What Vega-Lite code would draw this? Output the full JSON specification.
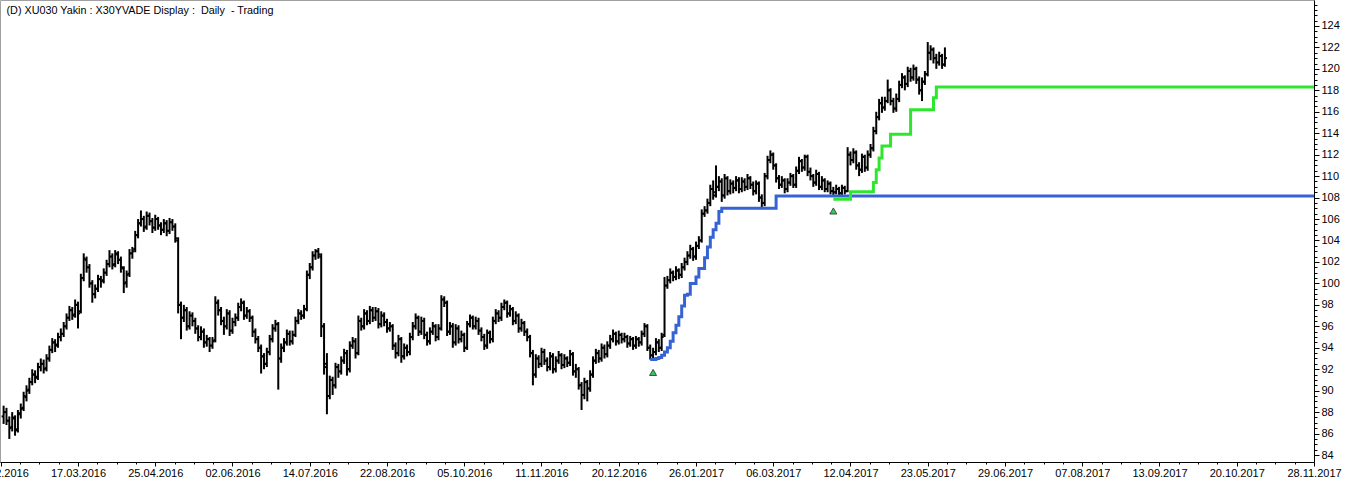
{
"$schema": "https://vega.github.io/schema/vega-lite/v6.json",
"width": 1314,
"height": 462,
"autosize": "none",
"padding": {"left": 0, "top": 0, "right": 32, "bottom": 20},
"background": "white",
"config": {
  "view": {"stroke": "#a0a0a0"},
  "axis": {"grid": false, "domainColor": "#000000", "tickColor": "#000000", "labelColor": "#000000", "labelFont": "Liberation Sans", "labelFontSize": 11, "labelOverlap": false, "labelFlush": false}
},
"resolve": {"axis": {"x": "independent", "y": "independent"}},
"datasets": {
"bars": [
{"i":1,"o":87.6,"h":88.6,"l":86.9,"c":88.0},
{"i":2,"o":88.0,"h":88.4,"l":86.8,"c":87.2},
{"i":3,"o":87.2,"h":87.6,"l":85.5,"c":86.5},
{"i":4,"o":86.6,"h":88.0,"l":86.2,"c":87.5},
{"i":5,"o":87.4,"h":87.7,"l":85.8,"c":86.3},
{"i":6,"o":86.4,"h":88.2,"l":86.1,"c":87.8},
{"i":7,"o":87.9,"h":88.8,"l":87.4,"c":88.3},
{"i":8,"o":88.4,"h":89.9,"l":88.1,"c":89.5},
{"i":9,"o":89.4,"h":90.5,"l":89.0,"c":90.0},
{"i":10,"o":90.1,"h":91.2,"l":89.7,"c":90.8},
{"i":11,"o":90.8,"h":92.0,"l":90.5,"c":91.5},
{"i":12,"o":91.5,"h":91.9,"l":90.7,"c":91.2},
{"i":13,"o":91.3,"h":92.6,"l":91.0,"c":92.2},
{"i":14,"o":92.2,"h":93.0,"l":91.8,"c":92.5},
{"i":15,"o":92.5,"h":92.9,"l":91.6,"c":92.0},
{"i":16,"o":92.1,"h":93.4,"l":91.8,"c":93.0},
{"i":17,"o":93.0,"h":94.2,"l":92.7,"c":93.8},
{"i":18,"o":93.8,"h":94.9,"l":93.5,"c":94.5},
{"i":19,"o":94.5,"h":94.8,"l":93.6,"c":94.2},
{"i":20,"o":94.3,"h":95.4,"l":94.0,"c":95.0},
{"i":21,"o":95.0,"h":95.8,"l":94.6,"c":95.3},
{"i":22,"o":95.3,"h":96.4,"l":95.0,"c":96.0},
{"i":23,"o":96.0,"h":97.2,"l":95.7,"c":96.8},
{"i":24,"o":96.8,"h":97.9,"l":96.5,"c":97.5},
{"i":25,"o":97.5,"h":97.8,"l":96.6,"c":97.0},
{"i":26,"o":97.1,"h":98.5,"l":96.8,"c":98.0},
{"i":27,"o":98.0,"h":98.3,"l":95.8,"c":97.2},
{"i":28,"o":97.4,"h":100.9,"l":97.2,"c":100.5},
{"i":29,"o":100.5,"h":102.8,"l":100.2,"c":102.3},
{"i":30,"o":102.2,"h":102.5,"l":101.0,"c":101.5},
{"i":31,"o":101.5,"h":101.8,"l":99.6,"c":100.0},
{"i":32,"o":100.0,"h":100.3,"l":98.2,"c":99.0},
{"i":33,"o":99.0,"h":99.9,"l":98.6,"c":99.5},
{"i":34,"o":99.5,"h":100.8,"l":99.2,"c":100.4},
{"i":35,"o":100.4,"h":100.7,"l":99.6,"c":100.2},
{"i":36,"o":100.3,"h":101.4,"l":100.0,"c":101.0},
{"i":37,"o":101.0,"h":102.2,"l":100.7,"c":101.8},
{"i":38,"o":101.8,"h":103.1,"l":101.5,"c":102.5},
{"i":39,"o":102.5,"h":102.8,"l":101.3,"c":101.7},
{"i":40,"o":101.8,"h":103.1,"l":101.5,"c":102.8},
{"i":41,"o":102.7,"h":103.0,"l":101.8,"c":102.2},
{"i":42,"o":102.2,"h":102.5,"l":101.0,"c":101.5},
{"i":43,"o":101.4,"h":101.6,"l":99.1,"c":100.0},
{"i":44,"o":100.1,"h":101.2,"l":99.6,"c":100.8},
{"i":45,"o":100.9,"h":103.2,"l":100.6,"c":102.8},
{"i":46,"o":102.8,"h":103.4,"l":102.3,"c":103.0},
{"i":47,"o":103.2,"h":104.9,"l":102.9,"c":104.5},
{"i":48,"o":104.5,"h":106.0,"l":104.2,"c":105.6},
{"i":49,"o":105.6,"h":106.8,"l":105.3,"c":106.0},
{"i":50,"o":106.0,"h":106.3,"l":104.8,"c":105.2},
{"i":51,"o":105.3,"h":106.7,"l":105.0,"c":106.3},
{"i":52,"o":106.3,"h":106.6,"l":105.4,"c":105.8},
{"i":53,"o":105.8,"h":106.1,"l":104.7,"c":105.2},
{"i":54,"o":105.2,"h":106.4,"l":104.9,"c":106.0},
{"i":55,"o":106.0,"h":106.2,"l":105.0,"c":105.4},
{"i":56,"o":105.4,"h":105.7,"l":104.5,"c":105.0},
{"i":57,"o":105.0,"h":106.0,"l":104.7,"c":105.6},
{"i":58,"o":105.6,"h":105.9,"l":104.4,"c":104.9},
{"i":59,"o":104.9,"h":106.1,"l":104.6,"c":105.7},
{"i":60,"o":105.7,"h":106.0,"l":104.9,"c":105.3},
{"i":61,"o":105.3,"h":105.6,"l":103.8,"c":104.2},
{"i":62,"o":104.0,"h":104.3,"l":97.2,"c":98.0},
{"i":63,"o":98.0,"h":98.3,"l":94.8,"c":96.8},
{"i":64,"o":96.8,"h":98.0,"l":96.4,"c":97.5},
{"i":65,"o":97.5,"h":97.8,"l":95.6,"c":96.0},
{"i":66,"o":96.0,"h":97.4,"l":95.7,"c":97.0},
{"i":67,"o":97.0,"h":97.3,"l":96.0,"c":96.5},
{"i":68,"o":96.5,"h":96.8,"l":95.3,"c":95.8},
{"i":69,"o":95.8,"h":96.1,"l":94.6,"c":95.0},
{"i":70,"o":95.0,"h":96.0,"l":94.7,"c":95.5},
{"i":71,"o":95.5,"h":95.8,"l":94.0,"c":94.5},
{"i":72,"o":94.5,"h":95.2,"l":94.1,"c":94.8},
{"i":73,"o":94.8,"h":95.0,"l":93.6,"c":94.2},
{"i":74,"o":94.2,"h":95.0,"l":93.9,"c":94.6},
{"i":75,"o":94.7,"h":98.8,"l":94.5,"c":98.2},
{"i":76,"o":98.2,"h":98.5,"l":97.0,"c":97.5},
{"i":77,"o":97.5,"h":97.8,"l":96.1,"c":96.5},
{"i":78,"o":96.5,"h":96.9,"l":95.2,"c":96.0},
{"i":79,"o":96.0,"h":97.6,"l":95.7,"c":97.2},
{"i":80,"o":97.2,"h":97.5,"l":95.1,"c":95.6},
{"i":81,"o":95.6,"h":96.8,"l":95.3,"c":96.4},
{"i":82,"o":96.4,"h":97.2,"l":96.0,"c":96.8},
{"i":83,"o":96.8,"h":98.2,"l":96.5,"c":97.8},
{"i":84,"o":97.8,"h":98.6,"l":97.4,"c":98.2},
{"i":85,"o":98.2,"h":98.4,"l":96.6,"c":97.0},
{"i":86,"o":97.0,"h":97.8,"l":96.7,"c":97.4},
{"i":87,"o":97.4,"h":97.6,"l":96.4,"c":96.8},
{"i":88,"o":96.8,"h":97.0,"l":95.0,"c":95.5},
{"i":89,"o":95.5,"h":95.8,"l":94.4,"c":94.8},
{"i":90,"o":94.8,"h":95.1,"l":93.6,"c":94.0},
{"i":91,"o":94.0,"h":94.3,"l":91.6,"c":93.2},
{"i":92,"o":93.2,"h":93.5,"l":92.0,"c":92.5},
{"i":93,"o":92.5,"h":94.0,"l":92.2,"c":93.6},
{"i":94,"o":93.6,"h":95.2,"l":93.3,"c":94.8},
{"i":95,"o":94.8,"h":96.2,"l":94.5,"c":95.8},
{"i":96,"o":95.8,"h":96.6,"l":95.5,"c":96.2},
{"i":97,"o":96.2,"h":96.4,"l":90.1,"c":93.0},
{"i":98,"o":93.0,"h":94.4,"l":92.6,"c":94.0},
{"i":99,"o":94.0,"h":94.9,"l":93.6,"c":94.5},
{"i":100,"o":94.5,"h":95.7,"l":94.2,"c":95.3},
{"i":101,"o":95.3,"h":95.6,"l":94.2,"c":94.6},
{"i":102,"o":94.6,"h":95.6,"l":94.3,"c":95.2},
{"i":103,"o":95.2,"h":96.9,"l":95.0,"c":96.5},
{"i":104,"o":96.5,"h":97.6,"l":96.2,"c":97.2},
{"i":105,"o":97.2,"h":97.5,"l":96.6,"c":97.0},
{"i":106,"o":97.0,"h":98.0,"l":96.7,"c":97.6},
{"i":107,"o":97.6,"h":101.2,"l":97.4,"c":100.8},
{"i":108,"o":100.8,"h":101.9,"l":100.4,"c":101.5},
{"i":109,"o":101.5,"h":103.0,"l":101.2,"c":102.6},
{"i":110,"o":102.6,"h":103.2,"l":102.2,"c":103.0},
{"i":111,"o":103.0,"h":103.3,"l":102.3,"c":102.7},
{"i":112,"o":102.5,"h":102.8,"l":95.0,"c":96.0},
{"i":113,"o":96.0,"h":96.3,"l":91.5,"c":92.5},
{"i":114,"o":92.2,"h":93.5,"l":87.8,"c":89.5},
{"i":115,"o":89.5,"h":91.4,"l":89.2,"c":91.0},
{"i":116,"o":91.0,"h":91.3,"l":89.6,"c":90.5},
{"i":117,"o":90.5,"h":92.6,"l":90.2,"c":92.2},
{"i":118,"o":92.2,"h":92.5,"l":91.2,"c":91.8},
{"i":119,"o":91.8,"h":93.2,"l":91.5,"c":92.8},
{"i":120,"o":92.8,"h":93.9,"l":92.5,"c":93.5},
{"i":121,"o":93.5,"h":93.8,"l":91.4,"c":92.0},
{"i":122,"o":92.0,"h":94.6,"l":91.7,"c":94.2},
{"i":123,"o":94.2,"h":95.0,"l":93.9,"c":94.6},
{"i":124,"o":94.6,"h":94.9,"l":93.0,"c":93.5},
{"i":125,"o":93.5,"h":97.0,"l":93.3,"c":96.5},
{"i":126,"o":96.5,"h":96.8,"l":95.6,"c":96.0},
{"i":127,"o":96.0,"h":97.6,"l":95.7,"c":97.2},
{"i":128,"o":97.2,"h":97.5,"l":96.1,"c":96.5},
{"i":129,"o":96.5,"h":97.9,"l":96.2,"c":97.5},
{"i":130,"o":97.5,"h":97.8,"l":96.4,"c":96.8},
{"i":131,"o":96.8,"h":97.8,"l":96.5,"c":97.4},
{"i":132,"o":97.4,"h":97.7,"l":95.8,"c":96.2},
{"i":133,"o":96.2,"h":97.4,"l":95.9,"c":97.0},
{"i":134,"o":97.0,"h":97.3,"l":96.0,"c":96.4},
{"i":135,"o":96.4,"h":96.7,"l":95.4,"c":95.8},
{"i":136,"o":95.8,"h":96.4,"l":95.5,"c":96.0},
{"i":137,"o":96.0,"h":96.2,"l":93.8,"c":94.2},
{"i":138,"o":94.2,"h":94.5,"l":93.0,"c":93.5},
{"i":139,"o":93.5,"h":95.2,"l":93.2,"c":94.8},
{"i":140,"o":94.8,"h":95.0,"l":92.6,"c":93.2},
{"i":141,"o":93.2,"h":94.4,"l":92.9,"c":94.0},
{"i":142,"o":94.0,"h":94.3,"l":93.2,"c":93.6},
{"i":143,"o":93.6,"h":95.4,"l":93.3,"c":95.0},
{"i":144,"o":95.0,"h":96.4,"l":94.7,"c":96.0},
{"i":145,"o":96.0,"h":97.2,"l":95.7,"c":96.8},
{"i":146,"o":96.8,"h":97.0,"l":95.1,"c":95.5},
{"i":147,"o":95.5,"h":96.9,"l":95.2,"c":96.5},
{"i":148,"o":96.5,"h":96.8,"l":94.8,"c":95.2},
{"i":149,"o":95.2,"h":95.5,"l":94.2,"c":94.6},
{"i":150,"o":94.6,"h":95.9,"l":94.3,"c":95.5},
{"i":151,"o":95.5,"h":96.4,"l":95.2,"c":96.0},
{"i":152,"o":96.0,"h":96.2,"l":94.6,"c":95.0},
{"i":153,"o":95.0,"h":96.2,"l":94.7,"c":95.8},
{"i":154,"o":95.8,"h":98.9,"l":95.6,"c":98.5},
{"i":155,"o":98.5,"h":98.8,"l":97.8,"c":98.2},
{"i":156,"o":98.2,"h":98.4,"l":95.1,"c":95.5},
{"i":157,"o":95.5,"h":96.4,"l":95.2,"c":96.0},
{"i":158,"o":96.0,"h":96.3,"l":94.0,"c":94.5},
{"i":159,"o":94.5,"h":96.2,"l":94.2,"c":95.8},
{"i":160,"o":95.8,"h":96.1,"l":94.4,"c":94.8},
{"i":161,"o":94.8,"h":95.6,"l":94.5,"c":95.2},
{"i":162,"o":95.2,"h":95.4,"l":93.6,"c":94.0},
{"i":163,"o":94.0,"h":96.5,"l":93.8,"c":96.2},
{"i":164,"o":96.2,"h":97.1,"l":95.9,"c":96.8},
{"i":165,"o":96.8,"h":97.0,"l":95.7,"c":96.0},
{"i":166,"o":96.0,"h":96.9,"l":95.7,"c":96.5},
{"i":167,"o":96.5,"h":96.8,"l":95.2,"c":95.6},
{"i":168,"o":95.6,"h":95.9,"l":94.6,"c":95.0},
{"i":169,"o":95.0,"h":95.3,"l":93.8,"c":94.2},
{"i":170,"o":94.2,"h":95.7,"l":93.9,"c":95.4},
{"i":171,"o":95.4,"h":95.6,"l":94.4,"c":94.8},
{"i":172,"o":94.8,"h":96.9,"l":94.5,"c":96.5},
{"i":173,"o":96.5,"h":97.6,"l":96.2,"c":97.2},
{"i":174,"o":97.2,"h":97.5,"l":96.4,"c":96.8},
{"i":175,"o":96.8,"h":98.2,"l":96.5,"c":97.8},
{"i":176,"o":97.8,"h":98.5,"l":97.5,"c":98.2},
{"i":177,"o":98.2,"h":98.4,"l":96.8,"c":97.2},
{"i":178,"o":97.2,"h":98.0,"l":96.9,"c":97.6},
{"i":179,"o":97.6,"h":97.8,"l":96.1,"c":96.5},
{"i":180,"o":96.5,"h":97.4,"l":96.2,"c":97.0},
{"i":181,"o":97.0,"h":97.2,"l":95.4,"c":95.8},
{"i":182,"o":95.8,"h":96.7,"l":95.5,"c":96.3},
{"i":183,"o":96.3,"h":96.5,"l":95.1,"c":95.5},
{"i":184,"o":95.5,"h":95.8,"l":94.6,"c":95.0},
{"i":185,"o":95.0,"h":95.2,"l":93.1,"c":93.5},
{"i":186,"o":93.5,"h":93.8,"l":90.5,"c":91.5},
{"i":187,"o":91.5,"h":93.4,"l":91.2,"c":93.0},
{"i":188,"o":93.0,"h":93.3,"l":92.1,"c":92.5},
{"i":189,"o":92.5,"h":94.0,"l":92.2,"c":93.6},
{"i":190,"o":93.6,"h":93.9,"l":92.4,"c":92.8},
{"i":191,"o":92.8,"h":93.1,"l":91.8,"c":92.2},
{"i":192,"o":92.2,"h":93.6,"l":91.9,"c":93.2},
{"i":193,"o":93.2,"h":93.5,"l":91.6,"c":92.0},
{"i":194,"o":92.0,"h":93.2,"l":91.7,"c":92.8},
{"i":195,"o":92.8,"h":93.7,"l":92.5,"c":93.3},
{"i":196,"o":93.3,"h":93.5,"l":92.0,"c":92.4},
{"i":197,"o":92.4,"h":93.4,"l":92.1,"c":93.0},
{"i":198,"o":93.0,"h":93.2,"l":92.2,"c":92.6},
{"i":199,"o":92.6,"h":93.8,"l":92.3,"c":93.4},
{"i":200,"o":93.4,"h":93.6,"l":91.4,"c":91.8},
{"i":201,"o":91.8,"h":92.5,"l":91.2,"c":92.0},
{"i":202,"o":92.0,"h":92.2,"l":90.1,"c":90.5},
{"i":203,"o":90.5,"h":90.8,"l":88.2,"c":89.6},
{"i":204,"o":89.6,"h":91.2,"l":89.2,"c":90.8},
{"i":205,"o":90.8,"h":91.0,"l":89.0,"c":90.2},
{"i":206,"o":90.2,"h":91.9,"l":89.9,"c":91.5},
{"i":207,"o":91.5,"h":93.2,"l":91.2,"c":92.8},
{"i":208,"o":92.8,"h":93.9,"l":92.5,"c":93.5},
{"i":209,"o":93.5,"h":93.8,"l":92.6,"c":93.0},
{"i":210,"o":93.0,"h":94.4,"l":92.7,"c":94.0},
{"i":211,"o":94.0,"h":94.3,"l":93.0,"c":93.4},
{"i":212,"o":93.4,"h":94.6,"l":93.1,"c":94.2},
{"i":213,"o":94.2,"h":95.2,"l":93.9,"c":94.8},
{"i":214,"o":94.8,"h":95.7,"l":94.5,"c":95.3},
{"i":215,"o":95.3,"h":95.5,"l":94.2,"c":94.6},
{"i":216,"o":94.6,"h":95.6,"l":94.3,"c":95.2},
{"i":217,"o":95.2,"h":95.4,"l":94.4,"c":94.8},
{"i":218,"o":94.8,"h":95.4,"l":94.5,"c":95.0},
{"i":219,"o":95.0,"h":95.2,"l":94.0,"c":94.4},
{"i":220,"o":94.4,"h":95.1,"l":94.1,"c":94.8},
{"i":221,"o":94.8,"h":95.0,"l":93.8,"c":94.2},
{"i":222,"o":94.2,"h":95.1,"l":93.9,"c":94.8},
{"i":223,"o":94.8,"h":95.0,"l":94.1,"c":94.5},
{"i":224,"o":94.5,"h":95.6,"l":94.2,"c":95.3},
{"i":225,"o":95.3,"h":96.3,"l":95.0,"c":96.0},
{"i":226,"o":96.0,"h":96.2,"l":93.7,"c":94.0},
{"i":227,"o":94.0,"h":94.3,"l":92.9,"c":93.3},
{"i":228,"o":93.3,"h":94.0,"l":93.0,"c":93.6},
{"i":229,"o":93.6,"h":94.9,"l":93.3,"c":94.5},
{"i":230,"o":94.5,"h":94.8,"l":93.6,"c":94.0},
{"i":231,"o":94.0,"h":95.4,"l":93.7,"c":95.0},
{"i":232,"o":95.2,"h":100.6,"l":95.0,"c":99.8},
{"i":233,"o":99.8,"h":100.7,"l":99.5,"c":100.3},
{"i":234,"o":100.3,"h":101.4,"l":100.0,"c":101.0},
{"i":235,"o":101.0,"h":101.2,"l":100.2,"c":100.6},
{"i":236,"o":100.6,"h":101.6,"l":100.3,"c":101.2},
{"i":237,"o":101.2,"h":101.4,"l":100.4,"c":100.8},
{"i":238,"o":100.8,"h":101.9,"l":100.5,"c":101.5},
{"i":239,"o":101.5,"h":102.4,"l":101.2,"c":102.0},
{"i":240,"o":102.0,"h":103.0,"l":101.7,"c":102.6},
{"i":241,"o":102.6,"h":103.6,"l":102.3,"c":103.2},
{"i":242,"o":103.2,"h":103.4,"l":102.1,"c":102.5},
{"i":243,"o":102.5,"h":103.9,"l":102.2,"c":103.5},
{"i":244,"o":103.5,"h":104.4,"l":103.2,"c":104.0},
{"i":245,"o":104.0,"h":106.9,"l":103.8,"c":106.5},
{"i":246,"o":106.5,"h":107.2,"l":106.2,"c":106.8},
{"i":247,"o":106.8,"h":107.9,"l":106.5,"c":107.5},
{"i":248,"o":107.5,"h":109.2,"l":107.2,"c":108.8},
{"i":249,"o":108.8,"h":109.6,"l":107.8,"c":108.2},
{"i":250,"o":108.5,"h":111.0,"l":108.0,"c":109.0},
{"i":251,"o":109.0,"h":110.0,"l":108.6,"c":109.5},
{"i":252,"o":109.5,"h":109.8,"l":107.6,"c":108.2},
{"i":253,"o":108.2,"h":110.2,"l":107.9,"c":109.8},
{"i":254,"o":109.8,"h":110.0,"l":108.2,"c":108.6},
{"i":255,"o":108.6,"h":109.7,"l":108.3,"c":109.3},
{"i":256,"o":109.3,"h":109.6,"l":108.4,"c":108.9},
{"i":257,"o":108.9,"h":110.0,"l":108.6,"c":109.6},
{"i":258,"o":109.6,"h":109.9,"l":108.4,"c":108.8},
{"i":259,"o":108.8,"h":109.9,"l":108.5,"c":109.5},
{"i":260,"o":109.5,"h":109.8,"l":108.6,"c":109.0},
{"i":261,"o":109.0,"h":110.2,"l":108.7,"c":109.8},
{"i":262,"o":109.8,"h":110.0,"l":108.8,"c":109.2},
{"i":263,"o":109.2,"h":109.5,"l":108.2,"c":108.6},
{"i":264,"o":108.6,"h":109.6,"l":108.3,"c":109.3},
{"i":265,"o":109.3,"h":109.5,"l":107.6,"c":108.0},
{"i":266,"o":108.0,"h":108.3,"l":107.1,"c":107.5},
{"i":267,"o":107.5,"h":110.3,"l":107.2,"c":110.0},
{"i":268,"o":110.0,"h":111.9,"l":109.7,"c":111.5},
{"i":269,"o":111.5,"h":112.4,"l":111.2,"c":112.0},
{"i":270,"o":112.0,"h":112.2,"l":110.6,"c":111.0},
{"i":271,"o":111.0,"h":111.2,"l":109.4,"c":109.8},
{"i":272,"o":109.8,"h":110.1,"l":108.8,"c":109.2},
{"i":273,"o":109.2,"h":110.0,"l":108.9,"c":109.6},
{"i":274,"o":109.6,"h":109.8,"l":108.4,"c":108.8},
{"i":275,"o":108.8,"h":109.8,"l":108.5,"c":109.4},
{"i":276,"o":109.4,"h":110.3,"l":109.1,"c":110.0},
{"i":277,"o":110.0,"h":110.2,"l":108.9,"c":109.2},
{"i":278,"o":109.2,"h":110.9,"l":108.9,"c":110.5},
{"i":279,"o":110.5,"h":111.8,"l":110.2,"c":111.4},
{"i":280,"o":111.4,"h":111.6,"l":110.4,"c":110.8},
{"i":281,"o":110.8,"h":112.0,"l":110.5,"c":111.8},
{"i":282,"o":111.8,"h":112.0,"l":110.0,"c":110.4},
{"i":283,"o":110.4,"h":110.8,"l":109.6,"c":110.0},
{"i":284,"o":110.0,"h":110.2,"l":109.0,"c":109.4},
{"i":285,"o":109.4,"h":110.6,"l":109.1,"c":110.2},
{"i":286,"o":110.2,"h":110.4,"l":108.7,"c":109.0},
{"i":287,"o":109.0,"h":110.0,"l":108.7,"c":109.6},
{"i":288,"o":109.6,"h":109.8,"l":108.5,"c":108.8},
{"i":289,"o":108.8,"h":109.6,"l":108.5,"c":109.3},
{"i":290,"o":109.3,"h":109.5,"l":108.3,"c":108.6},
{"i":291,"o":108.6,"h":109.0,"l":108.2,"c":108.5},
{"i":292,"o":108.5,"h":109.2,"l":108.3,"c":108.8},
{"i":293,"o":108.8,"h":109.0,"l":108.1,"c":108.4},
{"i":294,"o":108.4,"h":109.2,"l":108.2,"c":108.9},
{"i":295,"o":108.9,"h":109.1,"l":108.3,"c":108.6},
{"i":296,"o":108.6,"h":112.7,"l":108.5,"c":112.0},
{"i":297,"o":112.0,"h":112.3,"l":111.0,"c":111.5},
{"i":298,"o":111.5,"h":112.6,"l":111.2,"c":112.2},
{"i":299,"o":112.2,"h":112.4,"l":110.6,"c":111.0},
{"i":300,"o":111.0,"h":111.3,"l":110.0,"c":110.6},
{"i":301,"o":110.6,"h":112.1,"l":110.3,"c":111.8},
{"i":302,"o":111.8,"h":112.0,"l":110.4,"c":110.8},
{"i":303,"o":110.8,"h":112.4,"l":110.5,"c":112.0},
{"i":304,"o":112.0,"h":113.0,"l":111.7,"c":112.6},
{"i":305,"o":112.6,"h":114.6,"l":112.3,"c":114.2},
{"i":306,"o":114.2,"h":116.0,"l":113.9,"c":115.5},
{"i":307,"o":115.5,"h":117.2,"l":115.2,"c":116.8},
{"i":308,"o":116.8,"h":117.4,"l":115.9,"c":116.4},
{"i":309,"o":116.4,"h":117.4,"l":116.1,"c":117.0},
{"i":310,"o":117.0,"h":119.0,"l":116.8,"c":118.0},
{"i":311,"o":118.0,"h":118.2,"l":116.6,"c":117.0},
{"i":312,"o":117.0,"h":117.3,"l":115.9,"c":116.3},
{"i":313,"o":116.3,"h":117.7,"l":116.0,"c":117.2},
{"i":314,"o":117.2,"h":118.9,"l":116.9,"c":118.5},
{"i":315,"o":118.5,"h":119.6,"l":118.2,"c":119.2},
{"i":316,"o":119.2,"h":119.4,"l":118.0,"c":118.6},
{"i":317,"o":118.6,"h":120.2,"l":118.3,"c":119.8},
{"i":318,"o":119.8,"h":120.1,"l":118.8,"c":119.2},
{"i":319,"o":119.2,"h":120.4,"l":118.9,"c":120.0},
{"i":320,"o":120.0,"h":120.2,"l":118.6,"c":119.0},
{"i":321,"o":119.0,"h":119.3,"l":117.6,"c":118.0},
{"i":322,"o":118.0,"h":119.2,"l":117.0,"c":118.8},
{"i":323,"o":118.8,"h":119.8,"l":118.5,"c":119.5},
{"i":324,"o":119.5,"h":122.5,"l":119.3,"c":121.5},
{"i":325,"o":121.5,"h":122.2,"l":120.8,"c":121.8},
{"i":326,"o":121.8,"h":122.0,"l":120.5,"c":121.0},
{"i":327,"o":121.0,"h":121.4,"l":120.0,"c":120.6},
{"i":328,"o":120.6,"h":121.6,"l":120.3,"c":121.2},
{"i":329,"o":121.2,"h":121.4,"l":120.0,"c":120.4},
{"i":330,"o":120.4,"h":122.0,"l":120.2,"c":121.0}
],
"blue": [
{"i":227,"v":92.9},{"i":229,"v":93.0},{"i":230,"v":93.1},{"i":231,"v":93.3},{"i":232,"v":93.6},{"i":233,"v":94.0},{"i":234,"v":94.6},{"i":235,"v":95.4},{"i":236,"v":96.1},{"i":237,"v":96.9},{"i":238,"v":97.9},{"i":239,"v":98.9},{"i":240,"v":99.0},{"i":241,"v":100.0},{"i":243,"v":100.6},{"i":244,"v":101.4},{"i":246,"v":102.4},{"i":247,"v":103.4},{"i":248,"v":104.3},{"i":249,"v":105.0},{"i":250,"v":105.6},{"i":251,"v":106.7},{"i":252,"v":107.0},{"i":271,"v":108.15},{"i":459,"v":108.15}
],
"green": [
{"i":291,"v":107.85},{"i":297,"v":108.55},{"i":305,"v":109.4},{"i":306,"v":110.6},{"i":307,"v":111.7},{"i":308,"v":112.8},{"i":311,"v":113.9},{"i":318,"v":116.2},{"i":326,"v":117.3},{"i":327,"v":118.3},{"i":459,"v":118.3}
],
"sig": [
{"i":228,"v":91.7},{"i":291,"v":106.75}
]
},
"layer": [
{
  "data": {"name": "bars"},
  "mark": {"type": "rule", "color": "#000000", "strokeWidth": 2},
  "encoding": {
    "x": {"field": "i", "type": "quantitative",
      "scale": {"domain": [-0.262, 459], "nice": false, "zero": false},
      "axis": {"orient": "bottom", "title": null,
        "values": [0,27,54,81,108,135,162,189,216,243,270,297,324,351,378,405,432,459],
        "labelExpr": "['08.02.2016','17.03.2016','25.04.2016','02.06.2016','14.07.2016','22.08.2016','05.10.2016','11.11.2016','20.12.2016','26.01.2017','06.03.2017','12.04.2017','23.05.2017','29.06.2017','07.08.2017','13.09.2017','20.10.2017','28.11.2017'][round(datum.value / 27)]",
        "tickSize": 4, "labelPadding": 1}
    },
    "y": {"field": "l", "type": "quantitative",
      "scale": {"domain": [83.35, 126.42], "nice": false, "zero": false},
      "axis": {"orient": "right", "title": null,
        "values": [84,86,88,90,92,94,96,98,100,102,104,106,108,110,112,114,116,118,120,122,124],
        "tickSize": 5, "labelPadding": 2}
    },
    "y2": {"field": "h"}
  }
},
{
  "data": {"name": "bars"},
  "mark": {"type": "point", "shape": "M-1,0H0", "size": 16, "filled": false, "stroke": "#000000", "strokeWidth": 2, "opacity": 1},
  "encoding": {
    "x": {"field": "i", "type": "quantitative",
      "axis": {"orient": "bottom", "title": null, "labels": false, "domain": false, "tickSize": 2,
        "values": [6.75,13.5,20.25,33.75,40.5,47.25,60.75,67.5,74.25,87.75,94.5,101.25,114.75,121.5,128.25,141.75,148.5,155.25,168.75,175.5,182.25,195.75,202.5,209.25,222.75,229.5,236.25,249.75,256.5,263.25,276.75,283.5,290.25,303.75,310.5,317.25,330.75,337.5,344.25,357.75,364.5,371.25,384.75,391.5,398.25,411.75,418.5,425.25,438.75,445.5,452.25]}},
    "y": {"field": "o", "type": "quantitative",
      "axis": {"orient": "right", "title": null, "labels": false, "domain": false, "tickSize": 3,
        "values": [84.5,85,85.5,86.5,87,87.5,88.5,89,89.5,90.5,91,91.5,92.5,93,93.5,94.5,95,95.5,96.5,97,97.5,98.5,99,99.5,100.5,101,101.5,102.5,103,103.5,104.5,105,105.5,106.5,107,107.5,108.5,109,109.5,110.5,111,111.5,112.5,113,113.5,114.5,115,115.5,116.5,117,117.5,118.5,119,119.5,120.5,121,121.5,122.5,123,123.5,124.5,125,125.5,126]}}
  }
},
{
  "data": {"name": "bars"},
  "mark": {"type": "point", "shape": "M0,0H1", "size": 16, "filled": false, "stroke": "#000000", "strokeWidth": 2, "opacity": 1},
  "encoding": {
    "x": {"field": "i", "type": "quantitative",
      "axis": {"orient": "top", "title": "(D) XU030 Yakin : X30YVADE Display :\u00a0 Daily\u00a0 - Trading",
        "titleX": 6, "titleY": 13, "titleAlign": "left", "titleAnchor": "start", "titleBaseline": "alphabetic", "titleAngle": 0,
        "titleFont": "Liberation Sans", "titleFontSize": 10.8, "titleFontWeight": "normal", "titleColor": "#000000",
        "ticks": false, "labels": false, "domain": false, "values": []}},
    "y": {"field": "c", "type": "quantitative", "axis": null}
  }
},
{
  "data": {"name": "blue"},
  "mark": {"type": "line", "interpolate": "step-after", "color": "#3563d4", "strokeWidth": 3},
  "encoding": {
    "x": {"field": "i", "type": "quantitative", "axis": null},
    "y": {"field": "v", "type": "quantitative", "axis": null}
  }
},
{
  "data": {"name": "green"},
  "mark": {"type": "line", "interpolate": "step-after", "color": "#2ee62e", "strokeWidth": 3},
  "encoding": {
    "x": {"field": "i", "type": "quantitative", "axis": null},
    "y": {"field": "v", "type": "quantitative", "axis": null}
  }
},
{
  "data": {"name": "sig"},
  "mark": {"type": "point", "shape": "triangle-up", "size": 50, "filled": true, "fill": "#3cc463", "stroke": "#1c3a22", "strokeWidth": 0.8, "opacity": 1},
  "encoding": {
    "x": {"field": "i", "type": "quantitative", "axis": null},
    "y": {"field": "v", "type": "quantitative", "axis": null}
  }
}
]
}
